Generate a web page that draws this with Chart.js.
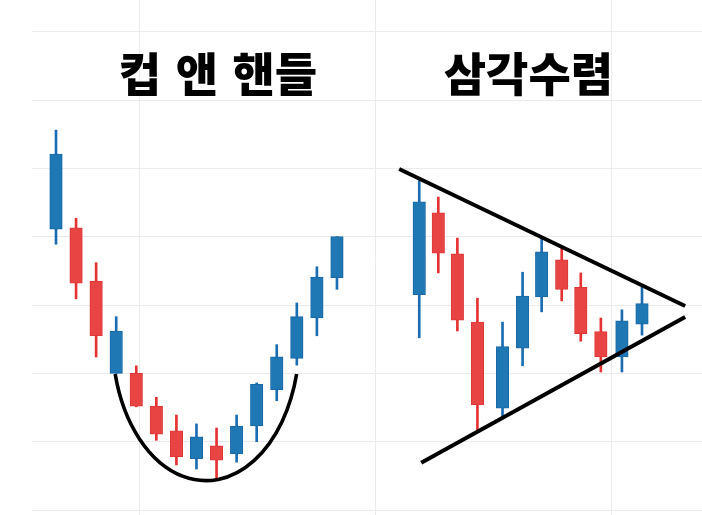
<!DOCTYPE html>
<html lang="ko">
<head>
<meta charset="utf-8">
<title>컵 앤 핸들 · 삼각수렴</title>
<script src="https://cdn.jsdelivr.net/npm/chart.js@4"></script>
<style>
  html, body { margin: 0; padding: 0; background: #ffffff; }
  #wrap { width: 702px; height: 515px; }
</style>
</head>
<body>
<div id="wrap"><canvas id="chart" width="702" height="515"></canvas></div>
<script>
// ---- 컵 앤 핸들: session index and OHLC prices ----
const cupSessions = [1, 2, 3, 4, 5, 6, 7, 8, 9, 10, 11, 12, 13, 14, 15];
const cupOpen  = [41.1, 41.3, 33.5, 20.0, 20.0, 15.2, 11.6,  7.5,  9.4,  8.2, 12.3, 17.6, 22.2, 28.1, 34.0];
const cupClose = [52.1, 33.2, 25.5, 26.2, 15.2, 11.1,  7.8, 10.7,  7.3, 12.3, 18.4, 22.4, 28.3, 34.1, 40.0];
const cupHigh  = [55.6, 42.7, 36.2, 28.3, 21.1, 16.5, 13.9, 12.6, 12.0, 13.9, 18.6, 24.2, 30.3, 35.6, 40.0];
const cupLow   = [38.9, 30.9, 22.4, 20.0, 15.1, 10.2,  6.6,  6.0,  4.4,  7.0, 10.0, 16.0, 21.2, 25.5, 32.3];

// ---- 삼각수렴: session index and OHLC prices ----
const triSessions = [19.1, 20.05, 21.0, 22.0, 23.25, 24.25, 25.2, 26.2, 27.15, 28.15, 29.2, 30.2];
const triOpen  = [31.5, 43.5, 37.5, 27.5, 14.9, 23.7, 31.2, 36.6, 32.6, 26.1, 22.4, 27.2];
const triClose = [45.1, 37.6, 27.8, 15.4, 23.9, 31.3, 37.8, 32.3, 25.8, 22.4, 27.7, 30.2];
const triHigh  = [48.2, 45.8, 39.8, 31.0, 27.5, 34.8, 40.0, 38.3, 34.7, 28.1, 29.3, 32.6];
const triLow   = [25.2, 34.7, 26.2, 11.7, 13.6, 21.1, 29.0, 30.6, 24.7, 20.2, 20.2, 25.6];

// converging trend lines: [session, price] end points
const triUpper = [[18.1, 49.9], [32.35, 29.85]];
const triLower = [[19.2, 6.9], [32.35, 28.25]];

// cup outline: elliptical arc centre, radii (session, price) and rim price
const cupCenter = [8.47, 24.9];
const cupRadius = [4.66, 20.6];
const cupRim = 19.9;

// grid positions
const xGrid = [5.15, 16.92, 28.68];
const yGrid = [0, 10, 20, 30, 40, 50, 60, 70];

// panel titles
const titles = ['컵 앤 핸들', '삼각수렴'];
const titleSessions = [9.07, 24.54];

const UP = '#1f77b4', UP_EDGE = '#1a69a6', UP_WICK = '#1b6cb0';
const DOWN = '#e84444', DOWN_EDGE = '#df3636', DOWN_WICK = '#e53232';

function candles(xs, open, close, high, low) {
  const body = xs.map((x, i) => ({ x, y: [open[i], close[i]], up: close[i] >= open[i] }));
  const wick = xs.map((x, i) => ({ x, y: [low[i], high[i]], up: close[i] >= open[i] }));
  return { body, wick };
}
const cup = candles(cupSessions, cupOpen, cupClose, cupHigh, cupLow);
const tri = candles(triSessions, triOpen, triClose, triHigh, triLow);

const bodyStyle = {
  type: 'bar', grouped: false, barThickness: 12.5, borderWidth: 1, borderSkipped: false,
  backgroundColor: c => (c.raw && c.raw.up ? UP : DOWN),
  borderColor: c => (c.raw && c.raw.up ? UP_EDGE : DOWN_EDGE),
  order: 2
};
const wickStyle = {
  type: 'bar', grouped: false, barThickness: 2, borderWidth: 0,
  backgroundColor: c => (c.raw && c.raw.up ? UP_WICK : DOWN_WICK),
  order: 3
};
const trendStyle = {
  type: 'line', borderColor: '#000000', borderWidth: 4, pointRadius: 0,
  fill: false, tension: 0, order: 0
};

const overlay = {
  id: 'overlay',
  afterDatasetsDraw(chart) {
    const { ctx, scales: { x, y } } = chart;
    // cup outline
    const cx = x.getPixelForValue(cupCenter[0]);
    const cy = y.getPixelForValue(cupCenter[1]);
    const rx = x.getPixelForValue(cupCenter[0] + cupRadius[0]) - cx;
    const ry = y.getPixelForValue(cupCenter[1] - cupRadius[1]) - cy;
    const a = Math.asin((y.getPixelForValue(cupRim) - cy) / ry);
    ctx.save();
    ctx.beginPath();
    ctx.ellipse(cx, cy, rx, ry, 0, a, Math.PI - a);
    ctx.lineWidth = 3.6;
    ctx.strokeStyle = '#000000';
    ctx.stroke();
    // titles
    ctx.font = '900 46px "Noto Sans CJK KR", "Noto Sans KR", sans-serif';
    ctx.textAlign = 'center';
    ctx.textBaseline = 'middle';
    ctx.fillStyle = '#000000';
    if ('wordSpacing' in ctx) ctx.wordSpacing = '4px';
    titles.forEach((t, i) => ctx.fillText(t, x.getPixelForValue(titleSessions[i]), 74));
    ctx.restore();
  }
};

const gridOpts = { color: '#ebebeb', lineWidth: 1, drawTicks: false, offset: false };

new Chart(document.getElementById('chart'), {
  data: {
    datasets: [
      { ...wickStyle, data: cup.wick },
      { ...wickStyle, data: tri.wick },
      { ...bodyStyle, data: cup.body },
      { ...bodyStyle, data: tri.body },
      { ...trendStyle, data: triUpper.map(([x, y]) => ({ x, y })) },
      { ...trendStyle, data: triLower.map(([x, y]) => ({ x, y })) }
    ]
  },
  options: {
    responsive: false,
    animation: false,
    devicePixelRatio: 1,
    layout: { padding: { left: 32, top: 0, right: 0, bottom: 0 } },
    plugins: { legend: { display: false }, tooltip: { enabled: false }, title: { display: false } },
    scales: {
      x: {
        type: 'linear', min: -0.196, max: 33.19, offset: false,
        grid: gridOpts, border: { display: false }, ticks: { display: false },
        afterBuildTicks: s => { s.ticks = xGrid.map(v => ({ value: v })); }
      },
      y: {
        type: 'linear', min: -0.73, max: 74.64,
        grid: gridOpts, border: { display: false }, ticks: { display: false },
        afterBuildTicks: s => { s.ticks = yGrid.map(v => ({ value: v })); }
      }
    }
  },
  plugins: [overlay]
});
</script>
</body>
</html>
